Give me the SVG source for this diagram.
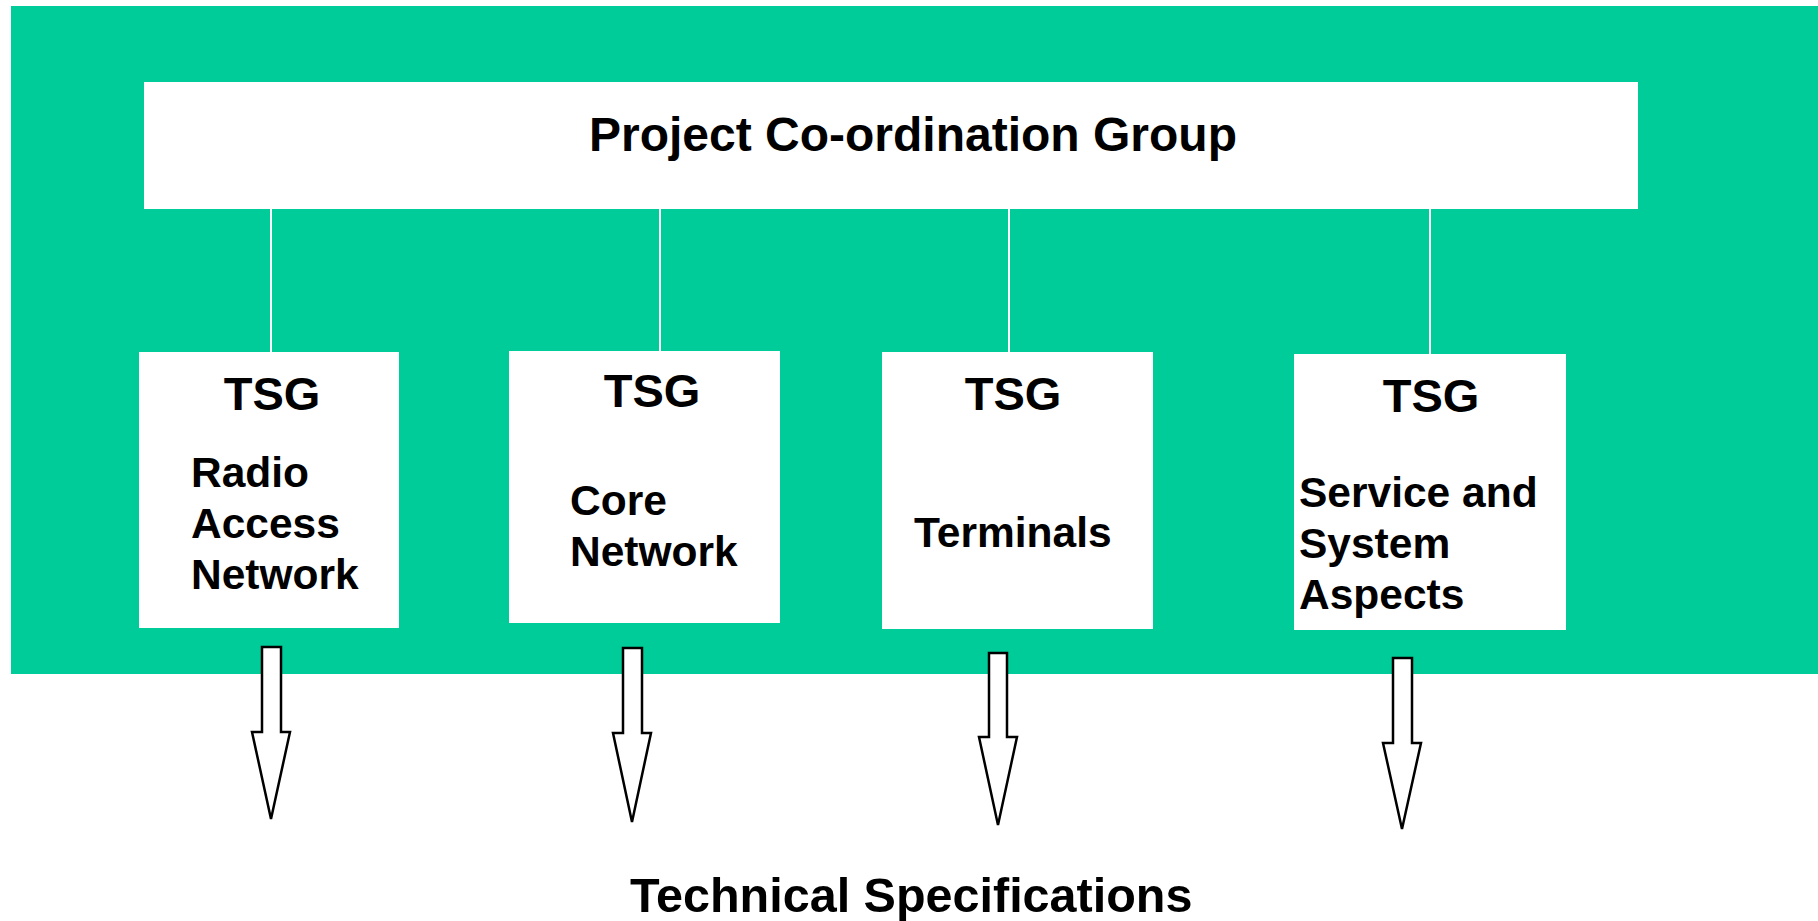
<svg xmlns="http://www.w3.org/2000/svg" width="1818" height="921" viewBox="0 0 1818 921">
  <style>
    .panel { fill: #00CC99; }
    .box { fill: #FFFFFF; }
    .link { stroke: #FFFFFF; stroke-width: 2; fill: none; }
    .arrow { fill: #FFFFFF; stroke: #000000; stroke-width: 2.5; stroke-linejoin: miter; }
    text { font-family: "Liberation Sans", Arial, Helvetica, sans-serif; font-weight: bold; fill: #000000; }
    .title { font-size: 48px; }
    .tsg { font-size: 47px; text-anchor: middle; }
    .body { font-size: 42.5px; }
    .foot { font-size: 48.5px; }
  </style>

  <rect width="1818" height="921" fill="#FFFFFF"/>
  <!-- green backdrop -->
  <rect class="panel" x="11" y="6" width="1807" height="668"/>

  <!-- links from the co-ordination group down to each TSG -->
  <g id="connectors">
    <line class="link" x1="271" y1="209" x2="271" y2="352"/>
    <line class="link" x1="660" y1="209" x2="660" y2="351"/>
    <line class="link" x1="1009" y1="209" x2="1009" y2="352"/>
    <line class="link" x1="1430" y1="209" x2="1430" y2="354"/>
  </g>

  <g id="pcg">
    <rect class="box" x="144" y="82" width="1494" height="127"/>
    <text class="title" x="589" y="151">Project Co-ordination Group</text>
  </g>

  <g id="tsg-ran">
    <rect class="box" x="139" y="352" width="260" height="276"/>
    <text class="tsg" x="272" y="410">TSG</text>
    <text class="body" x="191" y="487">Radio</text>
    <text class="body" x="191" y="538">Access</text>
    <text class="body" x="191" y="589">Network</text>
  </g>

  <g id="tsg-cn">
    <rect class="box" x="509" y="351" width="271" height="272"/>
    <text class="tsg" x="652" y="407">TSG</text>
    <text class="body" x="570" y="515">Core</text>
    <text class="body" x="570" y="566">Network</text>
  </g>

  <g id="tsg-t">
    <rect class="box" x="882" y="352" width="271" height="277"/>
    <text class="tsg" x="1013" y="410">TSG</text>
    <text class="body" x="914" y="547">Terminals</text>
  </g>

  <g id="tsg-sa">
    <rect class="box" x="1294" y="354" width="272" height="276"/>
    <text class="tsg" x="1431" y="412">TSG</text>
    <text class="body" x="1299" y="507">Service and</text>
    <text class="body" x="1299" y="558">System</text>
    <text class="body" x="1299" y="609">Aspects</text>
  </g>

  <!-- block arrows pointing to the specifications -->
  <g id="outputs">
    <path class="arrow" d="M262,647 H281 V732 H290 L271,819 L252,732 H262 Z"/>
    <path class="arrow" d="M623,648 H642 V733 H651 L632,822 L613,733 H623 Z"/>
    <path class="arrow" d="M989,653 H1007 V737 H1017 L998,825 L979,737 H989 Z"/>
    <path class="arrow" d="M1393,658 H1412 V743 H1421 L1402,829 L1383,743 H1393 Z"/>
  </g>

  <g id="specs">
    <text class="foot" x="630" y="912">Technical Specifications</text>
  </g>
</svg>
